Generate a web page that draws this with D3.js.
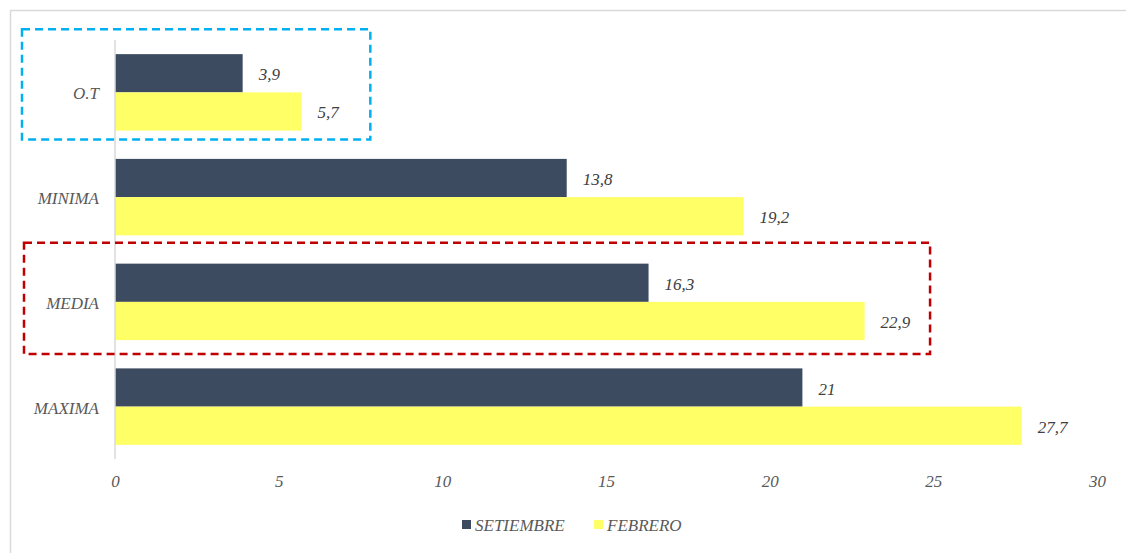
<!DOCTYPE html>
<html>
<head>
<meta charset="utf-8">
<script src="https://cdn.jsdelivr.net/npm/d3@7/dist/d3.min.js"></script>
<style>
  html, body { margin: 0; padding: 0; background: #fff; }
  svg { display: block; }
  svg text { font-family: 'Liberation Serif', 'Times New Roman', Times, 'DejaVu Serif', serif !important; font-style: italic; }
</style>
</head>
<body>
<svg id="chart" width="1126" height="553"></svg>
<script>
// Temperature categories and the two months compared
const categories = ["O.T", "MINIMA", "MEDIA", "MAXIMA"];
const seriesNames = ["SETIEMBRE", "FEBRERO"];
const setiembre = [3.9, 13.8, 16.3, 21];
const febrero = [5.7, 19.2, 22.9, 27.7];
const xTicks = [0, 5, 10, 15, 20, 25, 30];
const colors = ["#3d4b61", "#ffff66"];

const FS = 17;

const svg = d3.select("#chart");
const W = 1126, H = 553;

// outer frame
svg.append("rect")
  .attr("x", 10.5).attr("y", 10.5)
  .attr("width", W + 20).attr("height", H + 20)
  .attr("fill", "none").attr("stroke", "#d9d9d9").attr("stroke-width", 1.5);

const plot = { left: 115, right: 1097, top: 40, bottom: 459 };

const x = d3.scaleLinear().domain([0, 30]).range([plot.left, plot.right]);
const y = d3.scaleBand().domain(categories).range([plot.top, plot.bottom])
  .paddingInner(0.27).paddingOuter(0.135);
const ySub = d3.scaleBand().domain(seriesNames).range([0, y.bandwidth()]);

const rows = categories.map((c, i) => ({ cat: c, vals: [setiembre[i], febrero[i]] }));

// bars
const groups = svg.append("g").selectAll("g").data(rows).join("g")
  .attr("transform", d => `translate(0,${y(d.cat)})`);

groups.selectAll("rect").data(d => d.vals.map((v, j) => ({ v, s: seriesNames[j], j })))
  .join("rect")
  .attr("x", x(0))
  .attr("y", d => ySub(d.s))
  .attr("width", d => x(d.v) - x(0))
  .attr("height", ySub.bandwidth())
  .attr("fill", d => colors[d.j]);

// value labels
const fmt = v => String(v).replace(".", ",");
groups.selectAll("text.val").data(d => d.vals.map((v, j) => ({ v, s: seriesNames[j] })))
  .join("text")
  .attr("class", "val")
  .attr("x", d => x(d.v) + 16)
  .attr("y", d => ySub(d.s) + ySub.bandwidth() / 2 + 7)
  .attr("font-size", FS)
  .attr("fill", "#404040")
  .text(d => fmt(d.v));

// vertical category axis line
svg.append("line")
  .attr("x1", x(0)).attr("x2", x(0))
  .attr("y1", plot.top).attr("y2", plot.bottom)
  .attr("stroke", "#d9d9d9").attr("stroke-width", 1.5);

// category labels
svg.append("g").selectAll("text").data(categories).join("text")
  .attr("x", x(0) - 16)
  .attr("y", d => y(d) + y.bandwidth() / 2 + 7)
  .attr("text-anchor", "end")
  .attr("font-size", FS)
  .attr("fill", "#595959")
  .text(d => d);

// value axis tick labels
const xAxis = d3.axisBottom(x).tickValues(xTicks).tickSize(0).tickPadding(0).tickFormat(d => d);
const xg = svg.append("g").attr("transform", `translate(0,${plot.bottom + 28})`).call(xAxis)
  .attr("font-size", FS);
xg.select(".domain").remove();
xg.selectAll("text")
  .attr("fill", "#595959")
  .attr("dy", 0);

// highlight boxes
svg.append("rect")
  .attr("x", 22).attr("y", y("O.T") - 25)
  .attr("width", x(7.8) - 22).attr("height", y.bandwidth() + 34)
  .attr("fill", "none").attr("stroke", "#00b0f0").attr("stroke-width", 2.5)
  .attr("stroke-dasharray", "8,5");

svg.append("rect")
  .attr("x", 24).attr("y", y("MEDIA") - 21)
  .attr("width", x(24.9) - 24).attr("height", y.bandwidth() + 35)
  .attr("fill", "none").attr("stroke", "#c00000").attr("stroke-width", 2.5)
  .attr("stroke-dasharray", "8,5");

// legend
const legend = svg.append("g").attr("transform", "translate(462,525)");
const legItems = [
  { name: seriesNames[0], color: colors[0], dx: 0 },
  { name: seriesNames[1], color: colors[1], dx: 132 }
];
const li = legend.selectAll("g").data(legItems).join("g")
  .attr("transform", d => `translate(${d.dx},0)`);
li.append("rect").attr("x", 0).attr("y", -5).attr("width", 9).attr("height", 9).attr("fill", d => d.color);
li.append("text").attr("x", 13).attr("y", 6).attr("font-size", FS).attr("fill", "#595959").text(d => d.name);
</script>
</body>
</html>
